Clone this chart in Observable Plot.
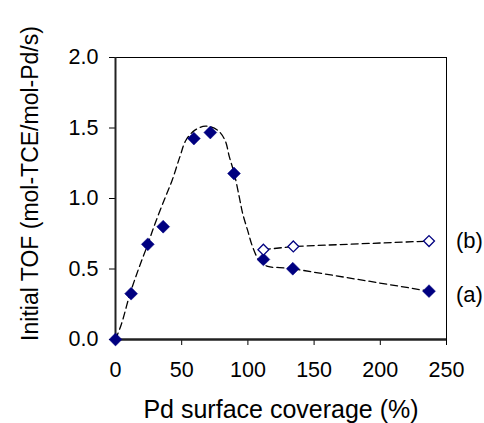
<!DOCTYPE html>
<html>
<head>
<meta charset="utf-8">
<script src="https://cdn.jsdelivr.net/npm/d3@7"></script>
<script src="https://cdn.jsdelivr.net/npm/@observablehq/plot@0.6"></script>
<style>
  html, body { margin: 0; padding: 0; background: #fff; }
</style>
</head>
<body>
<div id="chart"></div>
<script>
// Series (a): filled diamonds
const aX = [0, 11.8, 24.4, 36, 59.2, 71.6, 89.5, 111.7, 133.9, 236.8];
const aY = [0, 0.325, 0.675, 0.80, 1.425, 1.468, 1.177, 0.568, 0.502, 0.343];
// Series (b): open diamonds
const bX = [111.7, 134.3, 236.8];
const bY = [0.637, 0.660, 0.698];
// Dashed fit curve through series (a)
const fitX = [0, 4.5, 11, 17.4, 24.4, 29, 36.8, 42.8, 48.6, 53.2, 60, 68, 77, 82.7, 86, 89.7, 93.5, 96, 99.8, 103.6, 108.6, 115, 124, 134];
const fitY = [0, 0.11, 0.325, 0.5, 0.675, 0.8, 0.99, 1.13, 1.295, 1.413, 1.485, 1.513, 1.485, 1.413, 1.295, 1.177, 1.01, 0.895, 0.774, 0.656, 0.56, 0.518, 0.51, 0.502];
const tailX = [134, 236.8];
const tailY = [0.502, 0.343];
// Tick labels and names
const xTicks = [0, 50, 100, 150, 200, 250];
const yTicks = [0, 0.5, 1.0, 1.5, 2.0];
const seriesNames = ["(a)", "(b)"];
const xTitle = "Pd surface coverage (%)";
const yTitle = "Initial TOF (mol-TCE/mol-Pd/s)";

const A = aX.map((x, i) => ({x, y: aY[i]}));
const B = bX.map((x, i) => ({x, y: bY[i]}));
const FIT = fitX.map((x, i) => ({x, y: fitY[i]}));
const TAIL = tailX.map((x, i) => ({x, y: tailY[i]}));
const lastA = [{name: seriesNames[0], x: aX[aX.length - 1], y: aY[aY.length - 1]}];
const lastB = [{name: seriesNames[1], x: bX[bX.length - 1], y: bY[bY.length - 1]}];

const navy = "#000080";
const dash = "7,4";

const chart = Plot.plot({
  width: 484,
  height: 423,
  marginLeft: 115,
  marginRight: 38,
  marginTop: 57,
  marginBottom: 84,
  style: {fontFamily: "'Liberation Sans', Arial, sans-serif", fontSize: "21.5px", color: "#000", background: "#fff"},
  x: {domain: [0, 250], ticks: xTicks, tickSize: 6, tickPadding: 16, label: null},
  y: {domain: [0, 2], ticks: yTicks, tickFormat: d3.format(".1f"), tickSize: 6, tickPadding: 11, label: null},
  marks: [
    Plot.frame({stroke: "#000", strokeWidth: 1}),
    Plot.ruleX([0], {stroke: "#222", strokeWidth: 2}),
    Plot.ruleY([0], {stroke: "#222", strokeWidth: 2.5}),
    Plot.line(FIT, {x: "x", y: "y", curve: "catmull-rom", stroke: "#000", strokeWidth: 1.3, strokeDasharray: dash}),
    Plot.line(TAIL, {x: "x", y: "y", stroke: "#000", strokeWidth: 1.3, strokeDasharray: dash}),
    Plot.line(B, {x: "x", y: "y", stroke: "#000", strokeWidth: 1.3, strokeDasharray: dash}),
    Plot.dot(A, {x: "x", y: "y", symbol: "diamond2", r: 5.8, fill: navy, stroke: navy, strokeWidth: 0.5}),
    Plot.dot(B, {x: "x", y: "y", symbol: "diamond2", r: 4.9, fill: "#fff", stroke: navy, strokeWidth: 1.3}),
    Plot.text(lastA, {x: "x", y: "y", text: "name", dx: 27, dy: 4, textAnchor: "start", fontSize: 22, fill: "#000"}),
    Plot.text(lastB, {x: "x", y: "y", text: "name", dx: 27, dy: 0, textAnchor: "start", fontSize: 22, fill: "#000"}),
    Plot.text([xTitle], {frameAnchor: "bottom", textAnchor: "middle", lineAnchor: "middle", dy: 70, fontSize: 25, fill: "#000"}),
    Plot.text([yTitle], {frameAnchor: "left", textAnchor: "middle", lineAnchor: "middle", rotate: -90, dx: -85, dy: -15, fontSize: 23, fill: "#000"})
  ]
});
document.getElementById("chart").appendChild(chart);
</script>
</body>
</html>
